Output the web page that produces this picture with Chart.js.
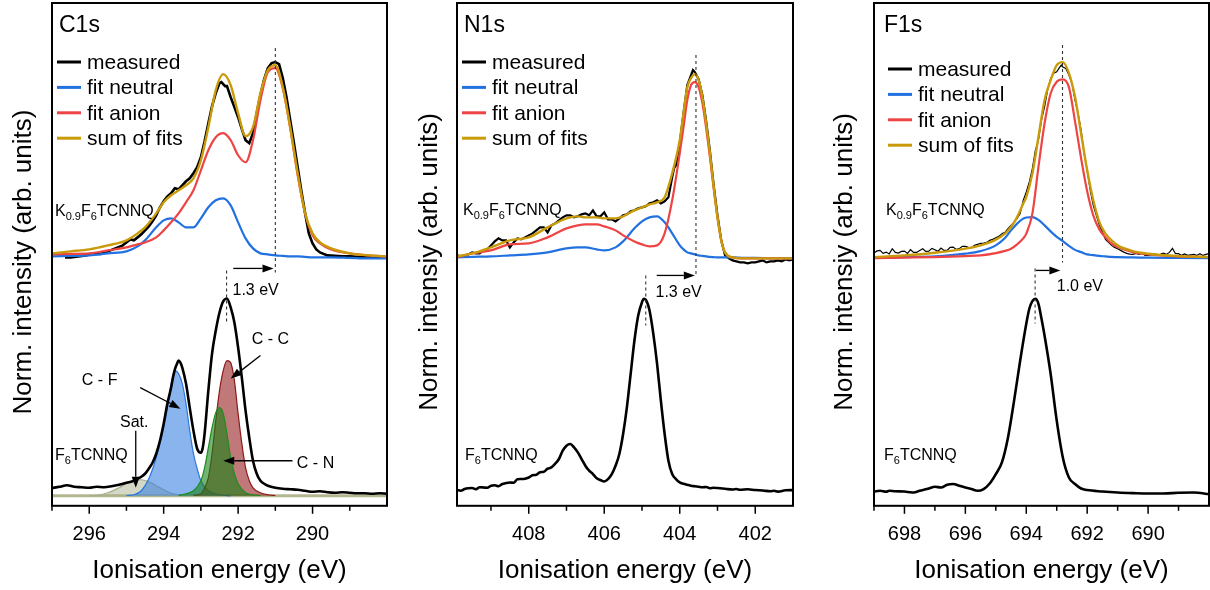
<!DOCTYPE html>
<html>
<head>
<meta charset="utf-8">
<script src="https://cdn.jsdelivr.net/npm/chart.js@4.4.0/dist/chart.umd.min.js"></script>
<style>
  body { margin: 0; background: #fff; width: 1210px; height: 590px; overflow: hidden; position: relative; }
  canvas { position: absolute; top: 0; }
</style>
</head>
<body>
<canvas id="c1s" width="400" height="590" style="left:0px"></canvas>
<canvas id="n1s" width="405" height="590" style="left:400px"></canvas>
<canvas id="f1s" width="405" height="590" style="left:805px"></canvas>
<script>
// ---------- data (energies in eV, intensities in arb. units) ----------
const legendLabels = ['measured', 'fit neutral', 'fit anion', 'sum of fits'];

// C1s, K0.9F6TCNNQ
const c1sTopE = [297.0, 296.5, 296.0, 295.5, 295.0, 294.7, 294.5, 294.2, 294.0, 293.8,
  293.6, 293.4, 293.2, 293.0, 292.8, 292.6, 292.4, 292.2, 292.0, 291.8,
  291.6, 291.4, 291.2, 291.0, 290.8, 290.6, 290.4, 290.2, 290.0, 289.8,
  289.5, 289.0, 288.5, 288.0];
const c1sSum = [252, 254, 256, 260, 265, 272, 278, 292, 303, 310,
  315, 320, 327, 345, 378, 415, 431, 420, 392, 369,
  378, 412, 435, 440, 418, 378, 332, 292, 272, 263,
  257, 252, 250, 249];
const c1sAnion = [251, 251.5, 252, 255, 258, 261, 263, 268, 275, 283,
  292, 303, 315, 335, 355, 368, 372, 365, 350, 343,
  365, 405, 433, 437, 417, 377, 330, 292, 270, 262,
  256, 252, 250, 249];
const c1sNeutral = [249, 249.5, 250, 252, 254, 259, 265, 278, 285, 287,
  283, 278, 278, 287, 298, 305, 307, 300, 283, 267,
  257, 252, 251, 250, 249.5, 249, 249, 248.5, 248, 248,
  248, 247.5, 247, 247];
const c1sMeasE = [296.65, 296.5, 296.3, 296.1, 295.9, 295.7, 295.5, 295.3, 295.1,
  294.9, 294.8, 294.7, 294.6, 294.5, 294.4, 294.3, 294.2, 294.1, 294.0,
  293.9, 293.8, 293.7, 293.6, 293.5, 293.4, 293.3, 293.2, 293.1, 293.0,
  292.9, 292.8, 292.7, 292.6, 292.5, 292.45, 292.4, 292.35, 292.3, 292.2, 292.1, 292.0,
  291.9, 291.8, 291.7, 291.6, 291.5, 291.4, 291.3, 291.2, 291.1, 291.0,
  290.9, 290.8, 290.7, 290.6, 290.5, 290.4, 290.3, 290.2, 290.1, 290.0,
  289.9, 289.8, 289.6, 289.4, 289.2, 289.0, 288.8, 288.5, 288.2, 288.0];
const c1sMeas = [248, 248, 249, 250, 252, 251.5, 254, 257, 260,
  266, 265, 268, 271, 275, 279, 284, 290, 298, 304,
  309, 312, 317, 316, 320, 324, 327, 332, 338, 348,
  364, 382, 399, 412, 422, 423, 421, 419, 419, 408, 398, 388,
  376, 365, 362, 372, 392, 410, 426, 437, 442, 443,
  441, 427, 408, 385, 362, 338, 314, 292, 272, 262,
  256, 253, 250, 249.5, 249, 249, 248.5, 248, 248, 248];

// C1s, F6TCNNQ
const c1sLowE = [297.0, 296.8, 296.6, 296.4, 296.2, 296.0, 295.8, 295.6, 295.4, 295.2,
  295.0, 294.8, 294.7, 294.6, 294.5, 294.4, 294.3, 294.2, 294.1, 294.0,
  293.9, 293.8, 293.75, 293.7, 293.65, 293.6, 293.55, 293.5, 293.4, 293.3,
  293.2, 293.1, 293.0, 292.95, 292.9, 292.8, 292.7, 292.6, 292.5, 292.4,
  292.3, 292.2, 292.1, 292.0, 291.9, 291.8, 291.7, 291.6, 291.5, 291.4,
  291.3, 291.2, 291.0, 290.8, 290.6, 290.4, 290.2, 290.0, 289.8, 289.6,
  289.4, 289.2, 289.0, 288.8, 288.6, 288.4, 288.2, 288.0];
const c1sLow = [17.7, 19, 20.5, 19, 18.5, 18, 19, 18.5, 19.5, 21,
  23, 25, 27, 29, 32, 37, 43, 52, 65, 82,
  102, 118, 128, 136, 141, 145, 143, 138, 122, 98,
  75, 57, 53, 58, 72, 115, 152, 175, 193, 204,
  207, 198, 183, 158, 128, 95, 68, 45, 32, 25,
  22, 20, 18, 17, 16.5, 16, 15, 14, 14.5, 13.5,
  13, 13.5, 13, 12.5, 12.5, 12, 12.5, 12];
const c1sCFE = [295.0, 294.8, 294.6, 294.4, 294.2, 294.0, 293.9, 293.8, 293.7, 293.6,
  293.5, 293.4, 293.3, 293.2, 293.1, 293.0, 292.8, 292.5, 292.2];
const c1sCF = [10.3, 11, 15, 27, 48, 78, 98, 122, 135, 132,
  122, 102, 75, 52, 37, 25, 15, 11, 10];
const c1sCCE = [293.2, 293.0, 292.9, 292.8, 292.7, 292.6, 292.5, 292.4, 292.3, 292.2,
  292.1, 292.0, 291.9, 291.8, 291.7, 291.6, 291.4, 291.2, 291.0];
const c1sCC = [10.5, 12, 18, 28, 52, 85, 115, 135, 145, 143,
  125, 92, 62, 38, 25, 18, 13, 11, 10.3];
const c1sCNE = [293.6, 293.4, 293.2, 293.0, 292.9, 292.8, 292.7, 292.6, 292.5, 292.4,
  292.3, 292.2, 292.1, 292.0, 291.8, 291.6, 291.4];
const c1sCN = [10.5, 12, 15, 25, 38, 58, 78, 93, 98, 92,
  72, 48, 32, 22, 13, 11, 10.3];
const c1sSatE = [296.0, 295.8, 295.5, 295.2, 295.0, 294.8, 294.6, 294.4, 294.2, 294.0, 293.8, 293.6, 293.4];
const c1sSat = [10, 10.5, 13, 18, 22, 25, 26, 24, 20, 16, 12.5, 11, 10];
const c1sBaseE = [297, 288];
const c1sBase = [10, 10];

// N1s, K0.9F6TCNNQ
const n1sTopE = [409.9, 409.5, 409.0, 408.5, 408.0, 407.5, 407.0, 406.7, 406.5, 406.2,
  406.0, 405.7, 405.5, 405.2, 405.0, 404.8, 404.6, 404.4, 404.2, 404.0,
  403.9, 403.8, 403.7, 403.6, 403.5, 403.4, 403.3, 403.2, 403.1, 403.0,
  402.9, 402.8, 402.6, 402.3, 402.0, 401.5, 401.0];
const n1sSum = [249, 252, 258, 265, 268, 278, 287, 289, 288, 288,
  287, 287, 289, 295, 298, 301, 303, 308, 332, 365,
  392, 418, 427, 431, 425, 408, 382, 352, 318, 288,
  265, 253, 248, 247, 247, 247, 247];
const n1sAnion = [248, 252, 255, 261, 262, 268, 277, 280, 281, 281,
  279, 275, 270, 264, 261, 259, 260, 272, 305, 352,
  378, 405, 420, 423, 418, 402, 377, 348, 317, 288,
  265, 253, 248, 247, 247, 247, 247];
const n1sNeutral = [248, 248.5, 249, 250, 251, 253, 257, 258, 258, 256,
  255, 258, 264, 277, 284, 288, 289, 283, 272, 260,
  256, 253, 252, 251, 250, 249.5, 249, 248.5, 248.3, 248,
  248, 248, 248, 247.5, 247.5, 247, 247];
const n1sMeasE = [409.9, 409.8, 409.7, 409.6, 409.5, 409.4, 409.3, 409.2, 409.1, 409.0,
  408.9, 408.8, 408.7, 408.6, 408.5, 408.4, 408.3, 408.2, 408.1, 408.0,
  407.9, 407.8, 407.7, 407.6, 407.5, 407.4, 407.3, 407.2, 407.1, 407.0,
  406.9, 406.8, 406.7, 406.6, 406.5, 406.4, 406.3, 406.2, 406.1, 406.0,
  405.9, 405.8, 405.7, 405.6, 405.5, 405.4, 405.3, 405.2, 405.1, 405.0,
  404.9, 404.8, 404.7, 404.6, 404.5, 404.4, 404.3, 404.2, 404.15, 404.1, 404.0,
  403.9, 403.8, 403.7, 403.65, 403.6, 403.5, 403.4, 403.3, 403.2, 403.1, 403.0,
  402.9, 402.8, 402.7, 402.6, 402.5, 402.4, 402.3, 402.2, 402.1, 402.0,
  401.9, 401.8, 401.7, 401.6, 401.5, 401.4, 401.3, 401.2, 401.1, 401.0];
const n1sMeas = [250, 249, 249, 251, 253, 252, 252, 255, 256, 260,
  264, 267, 265, 265, 258, 263, 267, 266, 268, 270,
  272, 275, 278, 278, 273, 280, 282, 285, 288, 290,
  290, 288, 289, 291, 292, 290, 295, 289, 289, 293,
  286, 286, 284, 287, 290, 291, 294, 295, 297, 298,
  299, 302, 303, 305, 302, 304, 308, 328, 337, 340, 362,
  392, 420, 430, 435, 433, 426, 410, 384, 354, 320, 290,
  265, 250, 247, 245, 244, 243, 243, 242, 243, 243,
  244, 245, 243, 244, 244, 245, 244, 246, 245, 246];

// N1s, F6TCNNQ
const n1sLowE = [409.9, 409.8, 409.7, 409.6, 409.5, 409.4, 409.3, 409.2, 409.1, 409.0,
  408.9, 408.8, 408.7, 408.6, 408.5, 408.4, 408.3, 408.2, 408.1, 408.0,
  407.9, 407.8, 407.7, 407.6, 407.5, 407.4, 407.3, 407.2, 407.1, 407.0,
  406.9, 406.8, 406.7, 406.6, 406.5, 406.4, 406.3, 406.2, 406.1, 406.0,
  405.9, 405.8, 405.7, 405.6, 405.5, 405.4, 405.3, 405.2, 405.1, 405.0,
  404.95, 404.9, 404.8, 404.7, 404.6, 404.5, 404.4, 404.3, 404.2, 404.1, 404.0,
  403.9, 403.8, 403.7, 403.6, 403.5, 403.4, 403.3, 403.2, 403.1, 403.0,
  402.8, 402.6, 402.5, 402.4, 402.2, 402.0, 401.8, 401.6, 401.5, 401.4, 401.2, 401.0];
const n1sLow = [15.7, 15, 16.7, 17.5, 17.7, 16.5, 18.5, 18.3, 18, 20,
  20.5, 19.5, 21.7, 22.7, 23.3, 23, 26.5, 26.7, 27, 28.3,
  30.5, 31, 33.5, 34, 37, 38.3, 42, 46.7, 55, 60,
  61.7, 58.3, 53.3, 46.7, 40, 35, 31.7, 27.5, 25.7, 24.3,
  26.7, 31.7, 40, 51.7, 71.7, 98.3, 131.7, 165, 190, 203.3,
  206.7, 205.7, 195, 171.7, 141.7, 105, 71.7, 45, 31.7, 26.7, 23.3,
  22, 21, 20, 19.5, 19, 18.5, 18.7, 17.5, 18, 17.7,
  17, 16.2, 16.7, 16, 16.5, 15.7, 15.3, 14.5, 15, 14.2, 15.5, 15.7];

// F1s, K0.9F6TCNNQ
const f1sTopE = [699, 698, 697, 696, 695.5, 695, 694.7, 694.5, 694.3, 694.1,
  694.0, 693.8, 693.6, 693.4, 693.2, 693.0, 692.8, 692.6, 692.4, 692.2,
  692.0, 691.8, 691.6, 691.4, 691.2, 691.0, 690.5, 690, 689, 688];
const f1sSum = [248.3, 250, 252.7, 256.7, 260, 265.7, 271.7, 278.3, 288.3, 301.7,
  308.3, 331.7, 368.3, 405, 425, 440, 443, 432, 408.3, 371.7,
  335, 305, 283.3, 271.7, 265, 260, 254.3, 251.7, 249.3, 248.3];
const f1sAnion = [247.3, 247.8, 248.3, 249.3, 250, 252.3, 254.5, 256.7, 261, 267,
  271.7, 291.7, 338.3, 381.7, 411.7, 423.3, 425.7, 418, 384, 347,
  314, 290, 276, 268, 261.7, 258.3, 253.3, 251, 249, 248.3];
const f1sNeutral = [247.7, 248.3, 249, 251.7, 254.3, 260, 267.3, 275, 281.7, 286.7,
  287.8, 288.2, 285.5, 280, 274, 268.5, 264.3, 259.5, 255.5, 253.3,
  251, 250.2, 249.5, 249, 248.5, 248.2, 248, 247.7, 247.5, 247.3];
const f1sMeasE = [699.0, 698.9, 698.8, 698.7, 698.6, 698.5, 698.4, 698.3, 698.2, 698.1,
  698.0, 697.9, 697.8, 697.7, 697.6, 697.5, 697.4, 697.3, 697.2, 697.1,
  697.0, 696.9, 696.8, 696.7, 696.6, 696.5, 696.4, 696.3, 696.2, 696.1,
  696.0, 695.9, 695.8, 695.7, 695.6, 695.5, 695.4, 695.3, 695.2, 695.1,
  695.0, 694.9, 694.8, 694.7, 694.6, 694.5, 694.4, 694.3, 694.2, 694.1,
  694.0, 693.9, 693.8, 693.7, 693.6, 693.5, 693.4, 693.3, 693.2, 693.1,
  693.0, 692.9, 692.85, 692.8, 692.7, 692.6, 692.5, 692.4, 692.3, 692.2, 692.1,
  692.0, 691.9, 691.8, 691.7, 691.6, 691.5, 691.4, 691.3, 691.2, 691.1,
  691.0, 690.9, 690.8, 690.7, 690.6, 690.5, 690.4, 690.3, 690.2, 690.1,
  690.0, 689.9, 689.8, 689.7, 689.6, 689.5, 689.4, 689.3, 689.2, 689.1,
  689.0, 688.9, 688.8, 688.7, 688.6, 688.5, 688.4, 688.3, 688.2, 688.1,
  688.0];
const f1sMeas = [252.3, 254.5, 255, 252, 253.3, 251.5, 256.7, 253, 252.3, 254,
  254.3, 252, 255.7, 253, 253, 255, 256.7, 254, 254.3, 257,
  255.7, 254, 257.3, 255, 255, 258, 258.3, 256, 256.7, 259,
  259, 258, 257.7, 260, 261, 262, 262.3, 263, 265, 266,
  267.7, 269, 271.7, 273, 276.7, 280, 283.3, 287, 291.7, 305,
  313.3, 323.3, 336.7, 355, 365, 385, 398.3, 415, 426.7, 432,
  433.3, 438, 440, 438, 436.7, 430, 421.7, 405, 391.7, 375, 351.7,
  335, 315, 300, 290, 280, 273.3, 266, 263, 260, 258,
  256.7, 255, 253.3, 252, 251.3, 251, 252, 251, 252.3, 250,
  250, 250.5, 251.7, 250, 251, 252.3, 251, 253, 257, 251.7,
  251.7, 250, 251.5, 250, 250.5, 251, 250, 251.7, 250, 251,
  251.7];

// F1s, F6TCNNQ
const f1sLowE = [699, 698.8, 698.6, 698.5, 698.3, 698.0, 697.8, 697.7, 697.5, 697.3,
  697.2, 697.0, 696.8, 696.6, 696.4, 696.2, 696.0, 695.8, 695.6, 695.4,
  695.2, 695.0, 694.8, 694.6, 694.4, 694.2, 694.0, 693.9, 693.8, 693.7,
  693.6, 693.5, 693.4, 693.2, 693.0, 692.8, 692.6, 692.4, 692.2, 692.0,
  691.5, 691.0, 690.5, 690.0, 689.5, 689.0, 688.5, 688.0];
const f1sLow = [14.3, 15, 14, 15, 14.5, 14.3, 13.5, 13.3, 15, 16.5,
  17.3, 19, 18.3, 21, 21.7, 20, 18.3, 16.7, 15, 16.7,
  22.3, 31.7, 43.3, 68.3, 105, 145, 181.7, 196.7, 204.3, 206.7,
  201.7, 186.7, 170, 131.7, 85, 48.3, 28.3, 21.7, 17.3, 15.7,
  14.3, 13.3, 12.7, 12.3, 12.3, 13, 13.3, 11.7];

// x-axis ticks
const c1sMajor = [296, 294, 292, 290], c1sMinor = [297, 295, 293, 291, 289];
const n1sMajor = [408, 406, 404, 402], n1sMinor = [409, 407, 405, 403];
const f1sMajor = [698, 696, 694, 692, 690], f1sMinor = [699, 697, 695, 693, 691, 689];

// ---------- styling ----------
const FONT = '"Liberation Sans", Arial, sans-serif';
const BLUE = '#2171e0', RED = '#ee4444', GOLD = '#c99a0a';
Chart.defaults.font.family = FONT;
Chart.defaults.color = '#000';

function pts(E, V) { return E.map((e, i) => ({ x: e, y: V[i] })); }
function line(E, V, color, width, smooth) {
  return { data: pts(E, V), borderColor: color, borderWidth: width, pointRadius: 0, fill: false,
    tension: 0, cubicInterpolationMode: smooth ? 'monotone' : 'default' };
}
function peak(E, V, edge, face) {
  return { data: pts(E, V), borderColor: edge, borderWidth: 1.2, backgroundColor: face, pointRadius: 0,
    fill: { value: 10 }, cubicInterpolationMode: 'monotone' };
}

function arrow(ctx, x1, y1, x2, y2) {
  const a = Math.atan2(y2 - y1, x2 - x1), L = 11, W = 4;
  ctx.beginPath(); ctx.moveTo(x1, y1);
  ctx.lineTo(x2 - L * Math.cos(a), y2 - L * Math.sin(a)); ctx.stroke();
  ctx.beginPath(); ctx.moveTo(x2, y2);
  ctx.lineTo(x2 - L * Math.cos(a) + W * Math.sin(a), y2 - L * Math.sin(a) - W * Math.cos(a));
  ctx.lineTo(x2 - L * Math.cos(a) - W * Math.sin(a), y2 - L * Math.sin(a) + W * Math.cos(a));
  ctx.closePath(); ctx.fill();
}
function formula(ctx, parts, x, y) {
  ctx.textAlign = 'left'; ctx.textBaseline = 'middle';
  parts.forEach(([t, sub]) => {
    ctx.font = (sub ? 11 : 16) + 'px ' + FONT;
    ctx.fillText(t, x, y + (sub ? 5 : 0));
    x += ctx.measureText(t).width;
  });
}
const doped = [['K', 0], ['0.9', 1], ['F', 0], ['6', 1], ['TCNNQ', 0]];
const neutral = [['F', 0], ['6', 1], ['TCNNQ', 0]];

function deco(p) {
  return {
    id: 'deco',
    afterDatasetsDraw(chart) {
      const { ctx, scales: { x, y } } = chart;
      ctx.save();
      ctx.strokeStyle = '#000'; ctx.fillStyle = '#000';
      p.notes.forEach(n => {
        if (n.dash) {
          ctx.setLineDash([3, 3]); ctx.lineWidth = 1.1; ctx.strokeStyle = '#333';
          ctx.beginPath(); ctx.moveTo(x.getPixelForValue(n.dash), y.getPixelForValue(n.y1));
          ctx.lineTo(x.getPixelForValue(n.dash), y.getPixelForValue(n.y2)); ctx.stroke();
          ctx.setLineDash([]); ctx.strokeStyle = '#000';
        } else if (n.arrow) {
          ctx.lineWidth = 1.3;
          arrow(ctx, x.getPixelForValue(n.arrow[0]), y.getPixelForValue(n.arrow[1]),
            x.getPixelForValue(n.arrow[2]), y.getPixelForValue(n.arrow[3]));
        } else if (n.text) {
          ctx.font = '16px ' + FONT; ctx.textAlign = 'center'; ctx.textBaseline = 'middle';
          ctx.fillText(n.text, x.getPixelForValue(n.at[0]), y.getPixelForValue(n.at[1]));
        }
      });
      ctx.restore();
    },
    afterDraw(chart) {
      const { ctx, chartArea: a, scales: { x } } = chart;
      const L = p.left;
      ctx.save();
      ctx.strokeStyle = '#000'; ctx.fillStyle = '#000';
      ctx.lineWidth = 2;
      ctx.strokeRect(a.left, a.top, a.right - a.left, a.bottom - a.top);
      ctx.lineWidth = 1.5;
      p.major.concat(p.minor).forEach(v => {
        const px = x.getPixelForValue(v), len = p.major.includes(v) ? 8 : 5;
        ctx.beginPath(); ctx.moveTo(px, a.bottom); ctx.lineTo(px, a.bottom + len); ctx.stroke();
      });
      // y title
      ctx.save();
      ctx.translate(p.yTitleX - L, 262);
      ctx.rotate(-Math.PI / 2);
      ctx.font = '26px ' + FONT; ctx.textAlign = 'center'; ctx.textBaseline = 'middle';
      ctx.fillText(p.yTitle, 0, 0);
      ctx.restore();
      // panel name
      ctx.font = '23px ' + FONT; ctx.textAlign = 'left'; ctx.textBaseline = 'middle';
      ctx.fillText(p.name, p.nameX - L, 26);
      // legend
      const colors = ['#000', BLUE, RED, GOLD];
      legendLabels.forEach((t, i) => {
        const yy = p.legend[1] + i * 25.4;
        ctx.strokeStyle = colors[i]; ctx.lineWidth = 3;
        ctx.beginPath(); ctx.moveTo(p.legend[0] - L, yy); ctx.lineTo(p.legend[0] - L + 24, yy); ctx.stroke();
        ctx.font = '21px ' + FONT; ctx.fillStyle = '#000';
        ctx.fillText(t, p.legend[0] - L + 30, yy + 1);
      });
      ctx.fillStyle = '#000';
      formula(ctx, doped, p.dopedAt[0] - L, p.dopedAt[1]);
      formula(ctx, neutral, p.neutralAt[0] - L, p.neutralAt[1]);
      ctx.restore();
    }
  };
}

function makeChart(p, datasets) {
  return new Chart(document.getElementById(p.id), {
    type: 'line',
    data: { datasets },
    options: {
      responsive: false,
      animation: false,
      layout: { padding: { left: p.pad[0], right: p.pad[1], top: 3, bottom: 0 } },
      plugins: { legend: { display: false }, tooltip: { enabled: false } },
      scales: {
        x: {
          type: 'linear', reverse: true, min: p.min, max: p.max,
          grid: { display: false, drawTicks: false, tickLength: 0 },
          border: { display: false },
          afterBuildTicks: s => { s.ticks = p.major.map(v => ({ value: v })); },
          ticks: { font: { size: 20 }, color: '#000', padding: 17 },
          title: { display: true, text: 'Ionisation energy (eV)', font: { size: 26 }, color: '#000',
            padding: { top: -9, bottom: 4 } }
        },
        y: { display: false, min: 0, max: 502 }
      }
    },
    plugins: [deco(p)]
  });
}

// ---------- panels ----------
makeChart({
  id: 'c1s', left: 0, pad: [52, 13], min: 288, max: 297, major: c1sMajor, minor: c1sMinor,
  name: 'C1s', nameX: 59, yTitle: 'Norm. intensity (arb. units)', yTitleX: 24,
  legend: [57, 62], dopedAt: [55, 212], neutralAt: [55, 456],
  notes: [
    { dash: 291.0, y1: 457, y2: 233 },
    { dash: 292.31, y1: 235, y2: 182 },
    { arrow: [292.13, 237, 291.05, 237] },
    { text: '1.3 eV', at: [291.53, 215] },
    { text: 'C - C', at: [291.13, 166] },
    { arrow: [291.4, 150, 292.2, 127] },
    { text: 'C - F', at: [295.72, 125] },
    { arrow: [294.63, 118, 293.55, 97] },
    { text: 'Sat.', at: [294.79, 83] },
    { arrow: [294.75, 75, 294.75, 18] },
    { text: 'C - N', at: [289.92, 42] },
    { arrow: [290.54, 45, 292.4, 45] }
  ]
}, [
  line(c1sTopE, c1sSum, GOLD, 2.4, true),
  line(c1sTopE, c1sAnion, RED, 2.2, true),
  line(c1sTopE, c1sNeutral, BLUE, 2.2, true),
  line(c1sMeasE, c1sMeas, '#000', 2.6, false),
  line(c1sLowE, c1sLow, '#000', 2.6, true),
  peak(c1sCNE, c1sCN, '#1e8c1e', 'rgba(20,130,20,0.6)'),
  peak(c1sCCE, c1sCC, '#8b1a1a', 'rgba(150,30,30,0.6)'),
  peak(c1sCFE, c1sCF, '#2a78e0', 'rgba(60,130,225,0.6)'),
  peak(c1sSatE, c1sSat, '#a8ad8a', 'rgba(160,170,130,0.45)'),
  line(c1sBaseE, c1sBase, '#b4b690', 3, false)
]);

makeChart({
  id: 'n1s', left: 400, pad: [57, 12], min: 401, max: 409.9, major: n1sMajor, minor: n1sMinor,
  name: 'N1s', nameX: 464, yTitle: 'Norm. intensiy (arb. units)', yTitleX: 430,
  legend: [462, 62], dopedAt: [463, 211], neutralAt: [465, 456],
  notes: [
    { dash: 403.57, y1: 450, y2: 230 },
    { dash: 404.9, y1: 230, y2: 180 },
    { arrow: [404.61, 230, 403.6, 230] },
    { text: '1.3 eV', at: [404.03, 213] }
  ]
}, [
  line(n1sTopE, n1sSum, GOLD, 2.4, true),
  line(n1sTopE, n1sAnion, RED, 2.2, true),
  line(n1sTopE, n1sNeutral, BLUE, 2.2, true),
  line(n1sMeasE, n1sMeas, '#000', 2.2, false),
  line(n1sLowE, n1sLow, '#000', 2.6, true)
]);

makeChart({
  id: 'f1s', left: 805, pad: [69, 1], min: 688, max: 699, major: f1sMajor, minor: f1sMinor,
  name: 'F1s', nameX: 884, yTitle: 'Norm. intensiy (arb. units)', yTitleX: 845,
  legend: [888, 69], dopedAt: [886, 211], neutralAt: [884, 456],
  notes: [
    { dash: 692.81, y1: 460, y2: 243 },
    { dash: 693.71, y1: 237, y2: 182 },
    { arrow: [693.68, 235, 692.88, 235] },
    { text: '1.0 eV', at: [692.24, 219] }
  ]
}, [
  line(f1sTopE, f1sSum, GOLD, 2.4, true),
  line(f1sTopE, f1sAnion, RED, 2.2, true),
  line(f1sTopE, f1sNeutral, BLUE, 2.2, true),
  line(f1sMeasE, f1sMeas, '#000', 1.2, false),
  line(f1sLowE, f1sLow, '#000', 2.6, true)
]);
</script>
</body>
</html>
